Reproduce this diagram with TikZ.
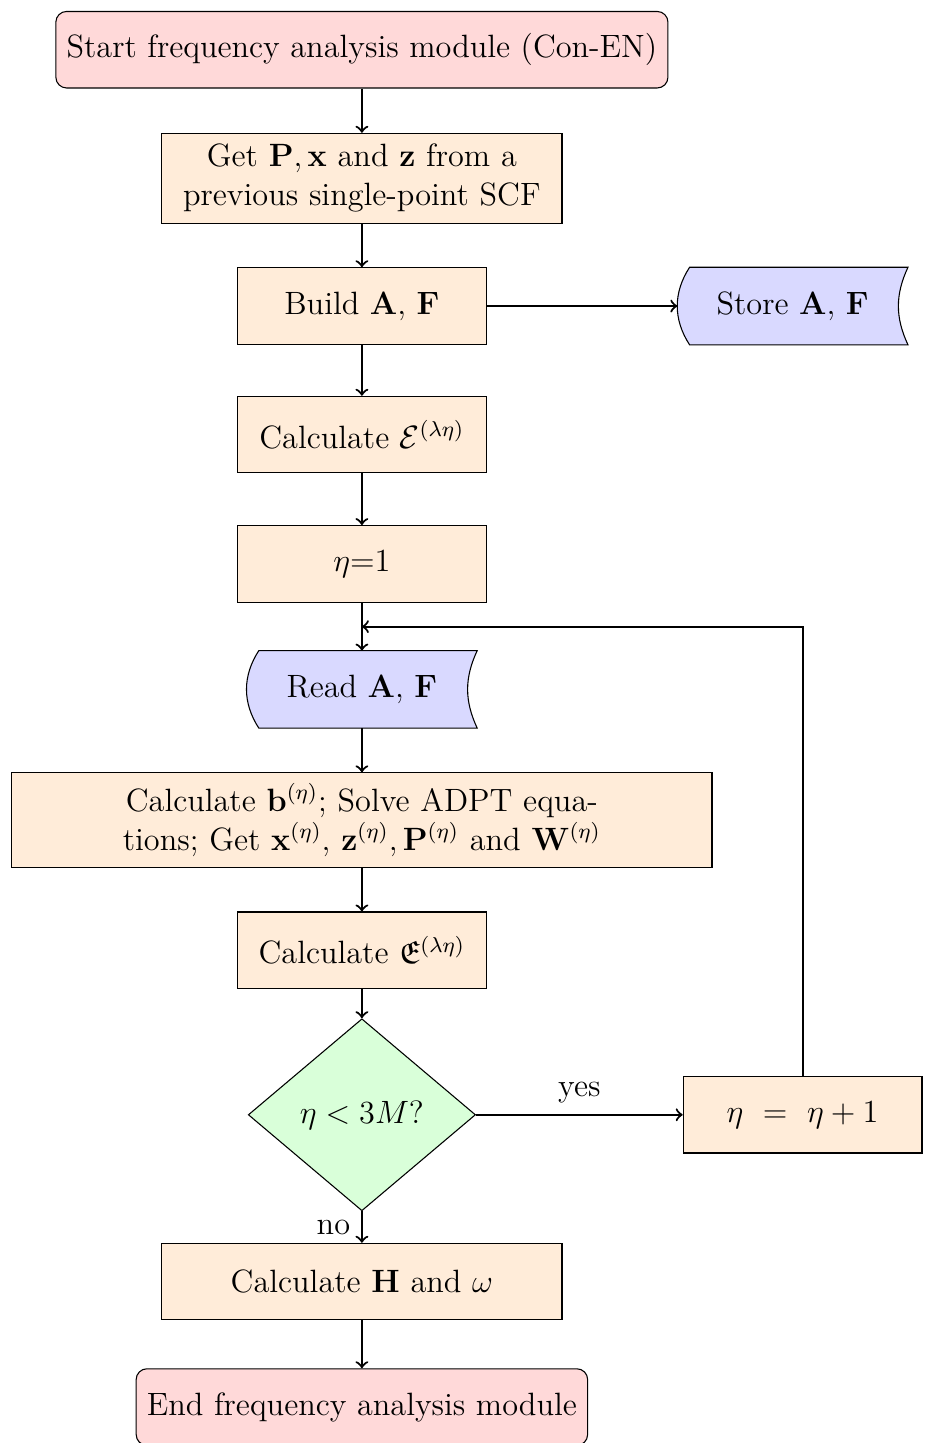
\documentclass[tikz,border=0pt,12pt]{standalone}
\usepackage{amsmath}
\usepackage{amssymb}
\usepackage{tikz}
\usetikzlibrary{arrows}
\usetikzlibrary{shapes.geometric}
\usetikzlibrary{backgrounds}

\begin{document}
\begin{tikzpicture}
        \tikzset{terminal/.style = {rectangle, rounded corners, draw, fill=red!15, minimum height=1cm}}
        \tikzset{process/.style = {rectangle, draw, fill=orange!15, minimum width=3.25cm, minimum height=1cm, align=center}}
        \tikzset{datastore/.style = {rectangle, minimum width=3cm, minimum height=1cm}}
        \tikzset{decision/.style = {diamond, draw, fill=green!15, inner sep=0pt, minimum width=2.97cm, minimum height=2.51cm}}
        \tikzset{edge/.style = {->, thick}}
        \useasboundingbox (0,0) rectangle (12.08,-18.86);

        % nodes
        \node[terminal] (start) at (4.73,-0.65) {Start frequency analysis module (Con-EN)};
        \node[process, text width=4.95cm] (get) at (4.73,-2.33) {Get $\mathbf{P}, \mathbf{x}$ and $\mathbf{z}$ from a previous single-point SCF};
        \node[process] (build) at (4.73,-4.00) {Build $\mathbf{A}$, $\mathbf{F}$};
        \node[datastore] (store) at (10.36,-4.00) {Store $\mathbf{A}$, $\mathbf{F}$};
        \node[process] (calcE) at (4.73,-5.68) {Calculate $\mathcal{E}^{(\lambda\eta)}$};
        \node[process] (init) at (4.73,-7.37) {$\eta$=1};
        \coordinate (join) at (4.73,-8.19);
        \node[datastore] (read) at (4.73,-9.01) {Read $\mathbf{A}$, $\mathbf{F}$};
        \node[process, text width=8.87cm] (solve) at (4.73,-10.72) {Calculate $\mathbf{b}^{(\eta)}$; Solve ADPT equa-\\tions; Get $\mathbf{x}^{(\eta)}$, $\mathbf{z}^{(\eta)}, \mathbf{P}^{(\eta)}$ and $\mathbf{W}^{(\eta)}$};
        \node[process] (calcF) at (4.73,-12.42) {Calculate $\mathfrak{E}^{(\lambda\eta)}$};
        \node[decision] (test) at (4.73,-14.57) {$\eta < 3M$?};
        \node[process, minimum width=3.12cm] (next) at (10.49,-14.57) {$\eta\ =\ \eta + 1$};
        \node[process, text width=4.95cm] (calcH) at (4.73,-16.75) {Calculate $\mathbf{H}$ and $\omega$};
        \node[terminal] (end) at (4.73,-18.39) {End frequency analysis module};

        % storage outlines
        \begin{pgfonlayer}{background}
        \foreach \s in {store, read}
            \draw[fill=blue!15] ([xshift=0.16cm]\s.north west) to[bend right=33] ([xshift=0.16cm]\s.south west) -- (\s.south east) to[bend left=25] (\s.north east) -- cycle;
        \end{pgfonlayer}

        % edges
        \draw[edge] (start) to (get);
        \draw[edge] (get) to (build);
        \draw[edge] (build) to (store);
        \draw[edge] (build) to (calcE);
        \draw[edge] (calcE) to (init);
        \draw[edge] (init) to (read);
        \draw[edge] (read) to (solve);
        \draw[edge] (solve) to (calcF);
        \draw[edge] (calcF) to (test);
        \draw[edge] (test) to node[above] {yes} (next);
        \draw[edge] (test) to node[left] {no} (calcH);
        \draw[edge] (calcH) to (end);
        \draw[edge] (next) |- (join);
\end{tikzpicture}
\end{document}
